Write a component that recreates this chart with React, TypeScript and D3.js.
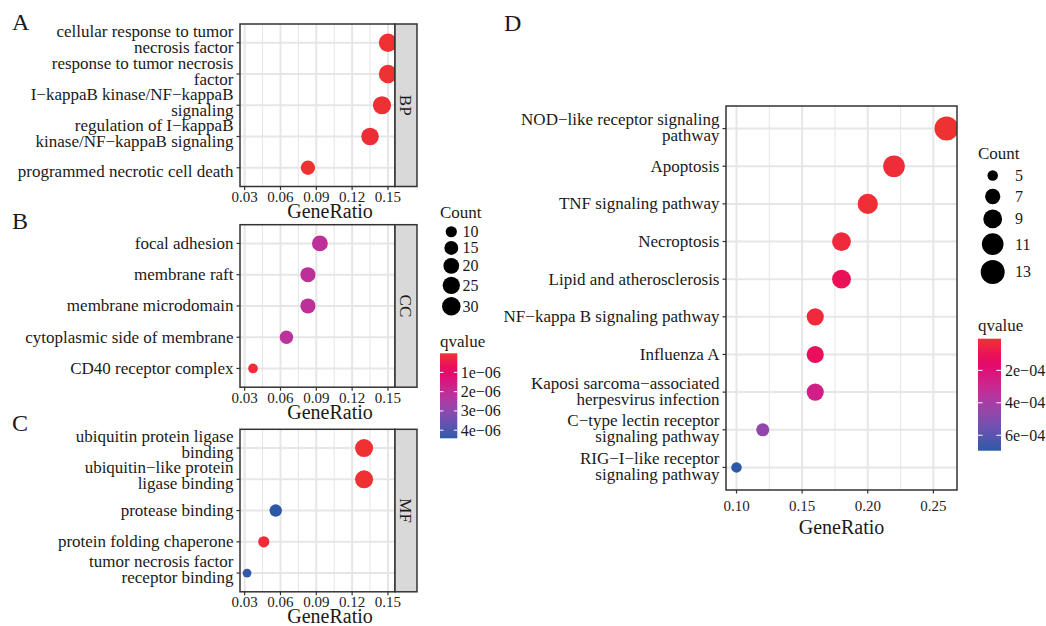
import React from 'react';
import * as d3 from 'd3';

// ---- GO enrichment (A: BP, B: CC, C: MF) ----
const bpTerms = [
  'cellular response to tumor\nnecrosis factor',
  'response to tumor necrosis\nfactor',
  'I−kappaB kinase/NF−kappaB\nsignaling',
  'regulation of I−kappaB\nkinase/NF−kappaB signaling',
  'programmed necrotic cell death',
];
const bpRatio = [0.150, 0.150, 0.145, 0.135, 0.083];
const bpCount = [29, 29, 28, 26, 16];
const bpQ = [2e-8, 2e-8, 5e-8, 8e-8, 1e-8];

const ccTerms = [
  'focal adhesion',
  'membrane raft',
  'membrane microdomain',
  'cytoplasmic side of membrane',
  'CD40 receptor complex',
];
const ccRatio = [0.093, 0.083, 0.083, 0.065, 0.037];
const ccCount = [20, 18, 18, 14, 8];
const ccQ = [2.1e-6, 2.1e-6, 2.1e-6, 2.2e-6, 1e-7];

const mfTerms = [
  'ubiquitin protein ligase\nbinding',
  'ubiquitin−like protein\nligase binding',
  'protease binding',
  'protein folding chaperone',
  'tumor necrosis factor\nreceptor binding',
];
const mfRatio = [0.130, 0.130, 0.056, 0.046, 0.032];
const mfCount = [28, 28, 12, 10, 7];
const mfQ = [3e-8, 3e-8, 4.42e-6, 1e-7, 4.3e-6];

// ---- KEGG enrichment (D) ----
const keggTerms = [
  'NOD−like receptor signaling\npathway',
  'Apoptosis',
  'TNF signaling pathway',
  'Necroptosis',
  'Lipid and atherosclerosis',
  'NF−kappa B signaling pathway',
  'Influenza A',
  'Kaposi sarcoma−associated\nherpesvirus infection',
  'C−type lectin receptor\nsignaling pathway',
  'RIG−I−like receptor\nsignaling pathway',
];
const keggRatio = [0.26, 0.22, 0.20, 0.18, 0.18, 0.16, 0.16, 0.16, 0.12, 0.10];
const keggCount = [13, 11, 10, 9, 9, 8, 8, 8, 6, 5];
const keggQ = [5e-6, 2e-5, 1.5e-5, 3e-5, 1.1e-4, 3e-5, 1.2e-4, 2.6e-4, 4.6e-4, 6.95e-4];

// ---- axis / legend breaks ----
const goTicks = [0.03, 0.06, 0.09, 0.12, 0.15];
const keggTicks = [0.10, 0.15, 0.20, 0.25];
const goCountBreaks = [10, 15, 20, 25, 30];
const keggCountBreaks = [5, 7, 9, 11, 13];
const goQBreaks = [1e-6, 2e-6, 3e-6, 4e-6];
const goQLabels = ['1e−06', '2e−06', '3e−06', '4e−06'];
const keggQBreaks = [2e-4, 4e-4, 6e-4];
const keggQLabels = ['2e−04', '4e−04', '6e−04'];

const LOW = '#EE3232';
const HIGH = '#2C59A7';
const FONT = '"Liberation Serif", "Times New Roman", serif';
const INK = '#1A1A1A';
const GRID = '#E6E6E6';
const BORDER = '#333333';

// ggplot-like continuous expansion (5% each side)
const expand = (vals) => {
  const [lo, hi] = d3.extent(vals);
  const pad = (hi - lo) * 0.05;
  return [lo - pad, hi + pad];
};

function DotPanel({ id, x0, y0, w, h, terms, ratio, count, q, xDomain, ticks, size, color, strip, tickDy, titleDy, titleX, singleDy = 5.5, multiDy = 0 }) {
  const x = d3.scaleLinear().domain(xDomain).range([x0, x0 + w]);
  const y = d3.scalePoint().domain(terms).range([y0, y0 + h]).padding(0.6);
  const minor = d3.pairs(ticks).map(([a, b]) => (a + b) / 2);
  const LH = 16;

  return (
    <g>
      <defs>
        <clipPath id={id}>
          <rect x={x0} y={y0} width={w} height={h} />
        </clipPath>
      </defs>
      <rect x={x0} y={y0} width={w} height={h} fill="#fff" />
      {/* grid */}
      {minor.map((t) => (
        <line key={'mi' + t} x1={x(t)} x2={x(t)} y1={y0} y2={y0 + h} stroke={GRID} strokeWidth={1} />
      ))}
      {ticks.map((t) => (
        <line key={'ma' + t} x1={x(t)} x2={x(t)} y1={y0} y2={y0 + h} stroke={GRID} strokeWidth={2} />
      ))}
      {terms.map((t) => (
        <line key={'h' + t} x1={x0} x2={x0 + w} y1={y(t)} y2={y(t)} stroke={GRID} strokeWidth={2} />
      ))}
      {/* dots */}
      <g clipPath={`url(#${id})`}>
        {terms.map((t, i) => (
          <circle key={t} cx={x(ratio[i])} cy={y(t)} r={size(count[i]) / 2} fill={color(q[i])} />
        ))}
      </g>
      <rect x={x0} y={y0} width={w} height={h} fill="none" stroke={BORDER} strokeWidth={1.5} />
      {strip && (
        <g>
          <rect x={x0 + w} y={y0} width={22} height={h} fill="#D9D9D9" stroke={BORDER} strokeWidth={1.5} />
          <text
            transform={`translate(${x0 + w + 11},${y0 + h / 2}) rotate(90)`}
            textAnchor="middle"
            dy="0.35em"
            fontSize={17}
            fill={INK}
          >
            {strip}
          </text>
        </g>
      )}
      {/* y axis */}
      {terms.map((t) => {
        const lines = t.split('\n');
        const first = lines.length > 1
          ? y(t) + 5.5 + multiDy - (lines.length - 1) * (LH / 2 + 3.5)
          : y(t) + singleDy;
        return (
          <g key={'yl' + t}>
            <line x1={x0 - 3.5} x2={x0} y1={y(t)} y2={y(t)} stroke={BORDER} strokeWidth={1.2} />
            <text x={x0 - 6.5} textAnchor="end" fontSize={17} fill={INK}>
              {lines.map((l, k) => (
                <tspan key={k} x={x0 - 6.5} y={first + k * LH}>{l}</tspan>
              ))}
            </text>
          </g>
        );
      })}
      {/* x axis */}
      {ticks.map((t) => (
        <g key={'xt' + t}>
          <line x1={x(t)} x2={x(t)} y1={y0 + h} y2={y0 + h + 3.5} stroke={BORDER} strokeWidth={1.2} />
          <text x={x(t)} y={y0 + h + tickDy} textAnchor="middle" fontSize={15} fill="#222">
            {t.toFixed(2)}
          </text>
        </g>
      ))}
      <text x={titleX} y={y0 + h + titleDy} textAnchor="middle" fontSize={20} fill={INK}>
        GeneRatio
      </text>
    </g>
  );
}

function SizeLegend({ x, y, keyX, labelX, breaks, size, minKey, pad }) {
  const heights = breaks.map((b) => Math.max(minKey, size(b) + pad));
  const centers = [];
  let acc = y + 6;
  heights.forEach((hh) => {
    centers.push(acc + hh / 2);
    acc += hh;
  });
  return (
    <g>
      <text x={x} y={y} fontSize={17} fill={INK}>Count</text>
      {breaks.map((b, i) => (
        <g key={b}>
          <circle cx={keyX} cy={centers[i]} r={size(b) / 2} fill="#000" />
          <text x={labelX} y={centers[i] + 5.5} fontSize={16} fill={INK}>{b}</text>
        </g>
      ))}
    </g>
  );
}

function ColorBar({ id, x, y, titleY, w, h, domain, breaks, labels, color, labelX }) {
  const yq = d3.scaleLinear().domain(domain).range([y, y + h]);
  const stops = d3.range(0, 1.0001, 0.05);
  return (
    <g>
      <defs>
        <linearGradient id={id} x1="0" y1="0" x2="0" y2="1">
          {stops.map((s) => (
            <stop key={s} offset={s} stopColor={color(domain[0] + s * (domain[1] - domain[0]))} />
          ))}
        </linearGradient>
      </defs>
      <text x={x} y={titleY} fontSize={17} fill={INK}>qvalue</text>
      <rect x={x} y={y} width={w} height={h} fill={`url(#${id})`} />
      {breaks.map((b, i) => (
        <g key={b}>
          <line x1={x} x2={x + w / 5} y1={yq(b)} y2={yq(b)} stroke="#fff" strokeWidth={1} />
          <line x1={x + w - w / 5} x2={x + w} y1={yq(b)} y2={yq(b)} stroke="#fff" strokeWidth={1} />
          <text x={labelX} y={yq(b) + 5.5} fontSize={16} fill={INK}>{labels[i]}</text>
        </g>
      ))}
    </g>
  );
}

export default function App() {
  // shared scales for the GO facets
  const goCounts = [...bpCount, ...ccCount, ...mfCount];
  const goQs = [...bpQ, ...ccQ, ...mfQ];
  const goX = expand([...bpRatio, ...ccRatio, ...mfRatio]);
  const goSize = d3.scaleLog().domain(d3.extent(goCounts)).range([8.8, 18.3]);
  const goQDomain = d3.extent(goQs);
  const goColor = d3.scaleLinear().domain(goQDomain).range([LOW, HIGH]).interpolate(d3.interpolateHcl);

  const keggX = expand(keggRatio);
  const keggSize = d3.scaleLog().domain(d3.extent(keggCount)).range([10.5, 24]);
  const keggQDomain = d3.extent(keggQ);
  const keggColor = d3.scaleLinear().domain(keggQDomain).range([LOW, HIGH]).interpolate(d3.interpolateHcl);

  const goPanel = { x0: 240, w: 155, h: 162.5, xDomain: goX, ticks: goTicks, size: goSize, color: goColor, tickDy: 15.5, titleDy: 31.5, titleX: 330 };

  return (
    <svg
      width={1046}
      height={626}
      style={{ position: 'absolute', left: 0, top: 0, background: '#fff', fontFamily: FONT }}
    >
      <rect width={1046} height={626} fill="#fff" />
      <text x={12} y={30} fontSize={24} fill={INK}>A</text>
      <text x={12} y={229} fontSize={24} fill={INK}>B</text>
      <text x={12} y={431} fontSize={24} fill={INK}>C</text>
      <text x={504} y={31} fontSize={24} fill={INK}>D</text>

      <DotPanel id="clipA" {...goPanel} y0={24} terms={bpTerms} ratio={bpRatio} count={bpCount} q={bpQ} strip="BP" singleDy={9.5} multiDy={0.5} />
      <DotPanel id="clipB" {...goPanel} y0={224.7} terms={ccTerms} ratio={ccRatio} count={ccCount} q={ccQ} strip="CC" />
      <DotPanel id="clipC" {...goPanel} y0={429.3} terms={mfTerms} ratio={mfRatio} count={mfCount} q={mfQ} strip="MF" />

      <SizeLegend x={440} y={218} keyX={451.3} labelX={462.5} breaks={goCountBreaks} size={goSize} minKey={15.5} pad={3} />
      <ColorBar
        id="gradGO" x={440} y={353.3} titleY={347.3} w={17.3} h={85}
        domain={goQDomain} breaks={goQBreaks} labels={goQLabels} color={goColor} labelX={460.7}
      />

      <DotPanel
        id="clipD" x0={726} y0={106} w={231} h={384} terms={keggTerms} ratio={keggRatio} count={keggCount} q={keggQ}
        xDomain={keggX} ticks={keggTicks} size={keggSize} color={keggColor} tickDy={20.5} titleDy={44} titleX={841.5}
        multiDy={2.5}
      />
      <SizeLegend x={978} y={159} keyX={992.7} labelX={1015} breaks={keggCountBreaks} size={keggSize} minKey={21} pad={5} />
      <ColorBar
        id="gradKEGG" x={978} y={338.7} titleY={330.5} w={23} h={112}
        domain={keggQDomain} breaks={keggQBreaks} labels={keggQLabels} color={keggColor} labelX={1005}
      />
    </svg>
  );
}
